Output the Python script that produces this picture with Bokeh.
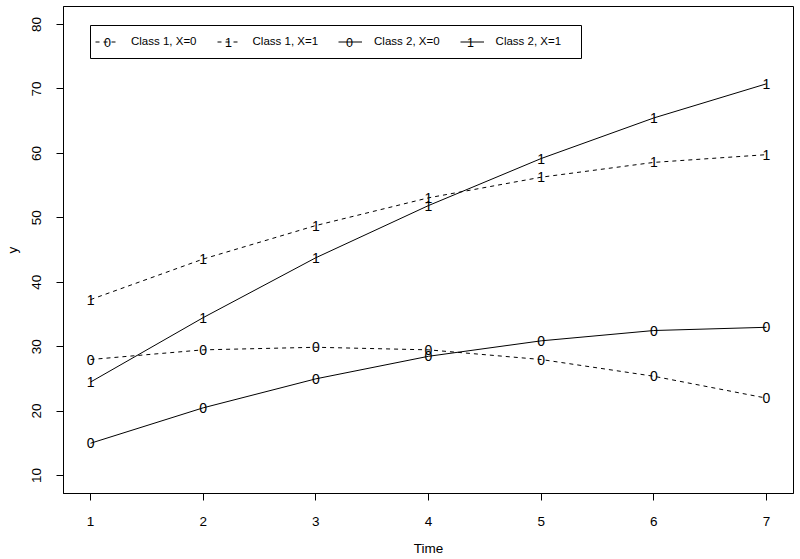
from bokeh.plotting import figure
from bokeh.models import Range1d, FixedTicker, Legend, LegendItem, Label, BoxAnnotation
from bokeh.core.properties import value
from bokeh.embed import file_html
from bokeh.resources import INLINE

# ---- data ----
time = [1, 2, 3, 4, 5, 6, 7]
class1_x0 = [28.0, 29.5, 29.9, 29.5, 28.0, 25.4, 22.0]
class1_x1 = [37.3, 43.6, 48.8, 53.1, 56.3, 58.6, 59.8]
class2_x0 = [15.0, 20.5, 25.0, 28.5, 30.9, 32.5, 33.0]
class2_x1 = [24.5, 34.5, 43.8, 51.9, 59.2, 65.5, 70.8]
series_labels = ["Class 1, X=0", "Class 1, X=1", "Class 2, X=0", "Class 2, X=1"]
series_symbols = ["0", "1", "0", "1"]
series_values = [class1_x0, class1_x1, class2_x0, class2_x1]
x_ticks = [1, 2, 3, 4, 5, 6, 7]
y_ticks = [10, 20, 30, 40, 50, 60, 70, 80]

FONT = "Liberation Sans"
dashes = ["4 4", "4 4", "solid", "solid"]

p = figure(width=800, height=559,
           x_range=Range1d(0.76, 7.24), y_range=Range1d(7.2, 82.8),
           output_backend="svg", toolbar_location=None,
           min_border_left=63, min_border_right=7, min_border_top=6, min_border_bottom=66)

p.grid.visible = False
p.outline_line_color = "black"
p.outline_line_alpha = 1
p.outline_line_width = 1
p.background_fill_color = "white"

for ax in (p.xaxis[0], p.yaxis[0]):
    ax.axis_line_color = "black"
    ax.major_tick_line_color = "black"
    ax.minor_tick_line_color = None
    ax.major_tick_out = 7
    ax.major_tick_in = 0
    ax.major_label_text_font = FONT
    ax.major_label_text_font_size = "13.5px"
    ax.major_label_text_color = "black"
    ax.axis_label_text_font = FONT
    ax.axis_label_text_font_size = "13.5px"
    ax.axis_label_text_font_style = "normal"
    ax.axis_label_text_color = "black"

p.xaxis.ticker = FixedTicker(ticks=x_ticks)
p.yaxis.ticker = FixedTicker(ticks=y_ticks)
p.xaxis.axis_label = "Time"
p.yaxis.axis_label = "y"
p.yaxis.major_label_orientation = "vertical"
p.xaxis.major_label_standoff = 16
p.yaxis.major_label_standoff = 15
p.xaxis.axis_label_standoff = 12
p.yaxis.axis_label_standoff = 10

items = []
for lab, sym, vals, dash in zip(series_labels, series_symbols, series_values, dashes):
    r = p.line(time, vals, line_color="black", line_width=1, line_dash=dash)
    p.text(time, vals, text=[sym] * len(time), text_align="center", text_baseline="middle",
           text_font=value(FONT), text_font_size="14px", text_color="black")
    items.append(LegendItem(label=lab, renderers=[r]))

# legend frame (white box with black border)
p.add_layout(BoxAnnotation(left=27, right=518, top=468, bottom=435,
                           left_units="screen", right_units="screen",
                           top_units="screen", bottom_units="screen",
                           fill_color="white", fill_alpha=1, line_color="black", line_width=1,
                           line_alpha=1))

legend = Legend(items=items, orientation="horizontal", location=(32, 439.5),
                padding=4, spacing=20, margin=0,
                glyph_width=24, glyph_height=25, label_height=25, label_standoff=12,
                label_text_font=FONT, label_text_font_size="11.5px", label_text_color="black",
                border_line_color=None, background_fill_alpha=0)
p.add_layout(legend, "center")

pitch = 121
for i, sym in enumerate(series_symbols):
    p.add_layout(Label(x=44 + i * pitch, y=451.5, x_units="screen", y_units="screen",
                       text=sym, text_align="center", text_baseline="middle",
                       text_font=FONT, text_font_size="12.5px", text_color="black",
                       level="overlay"))

open("out.html", "w").write(file_html(p, INLINE))
